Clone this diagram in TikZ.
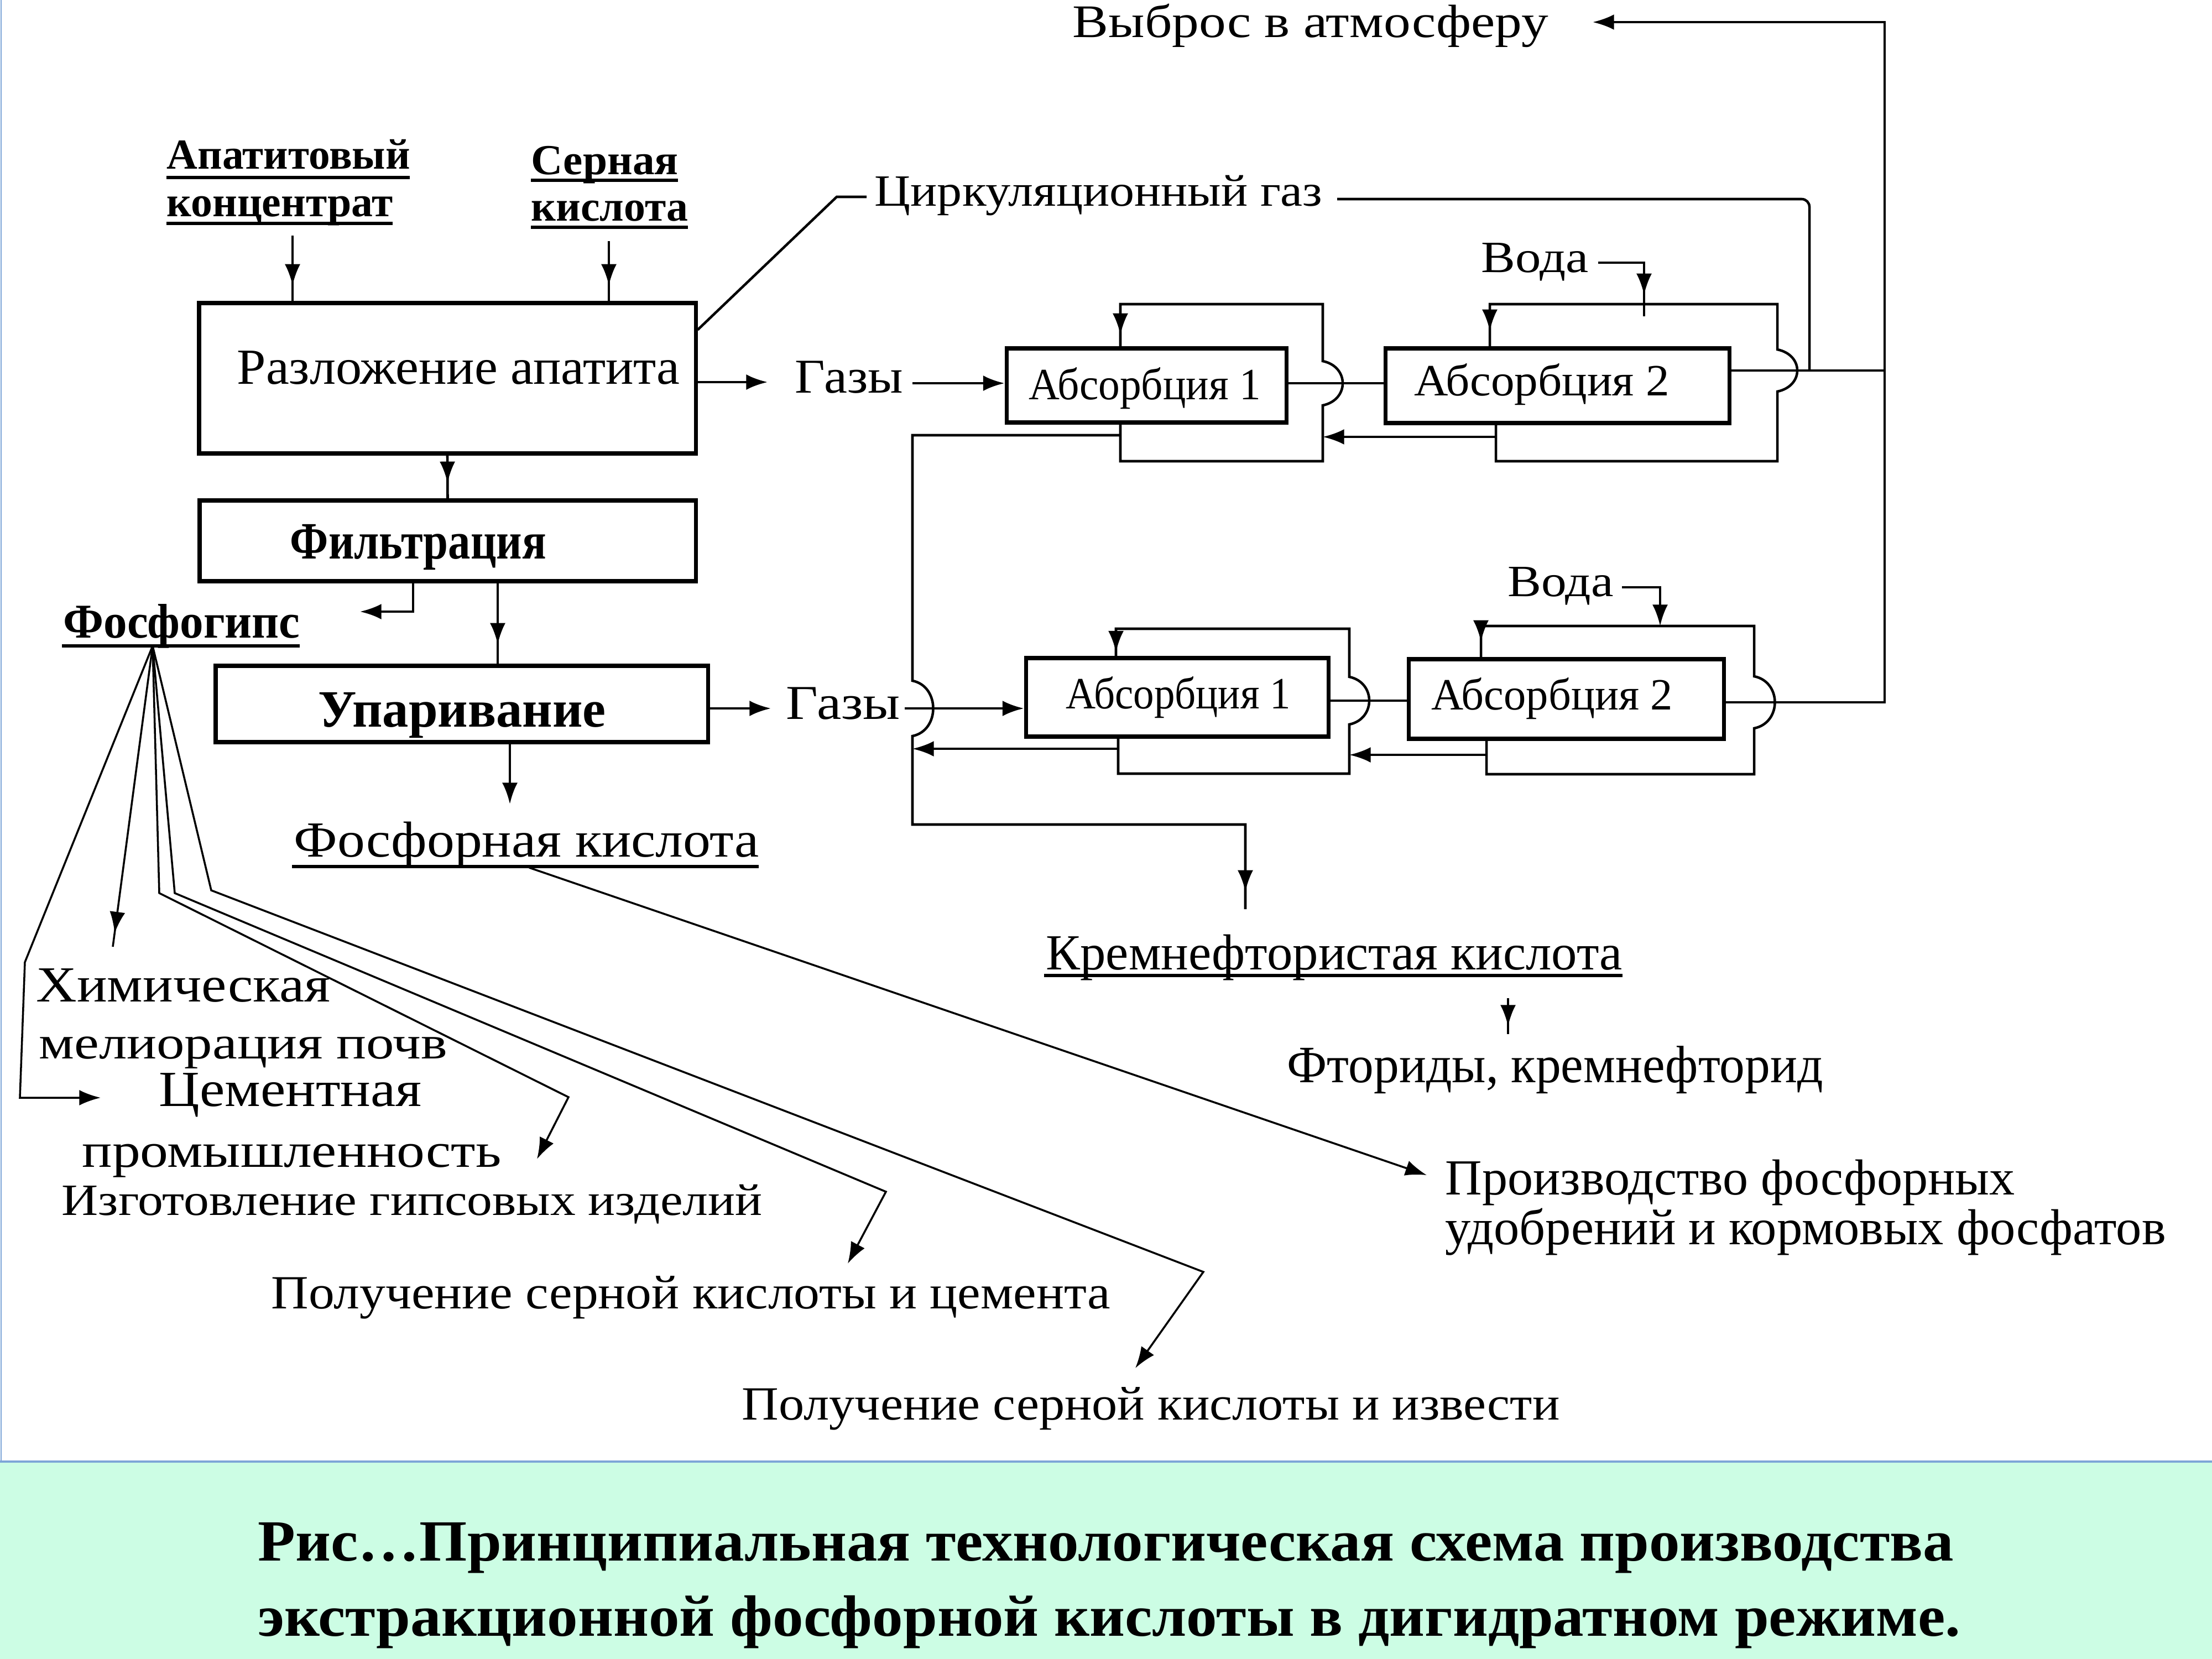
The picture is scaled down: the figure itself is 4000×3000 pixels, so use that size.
\documentclass[tikz,border=0pt]{standalone}
\usepackage{fontspec}
\setmainfont{Liberation Serif}
\usepackage{graphicx}
\usetikzlibrary{arrows.meta,decorations.markings,fit,calc}
\newdimen\mypx \mypx=0.01cm
\newcommand{\fitw}[2]{\resizebox{#1\mypx}{\height}{#2}}
\newcommand{\fsz}[1]{\fontsize{#1}{#1}\selectfont}
\definecolor{mint}{RGB}{204,253,228}
\definecolor{edgeblue}{RGB}{125,165,215}
\tikzset{
  box/.style={draw, line width=2pt, inner sep=0pt},
  lbl/.style={inner sep=0pt, anchor=base west, font=#1},
  capl/.style={inner sep=0pt, anchor=base, font=\bfseries\fsz{30}},
  ln/.style={line width=1.3pt},
  fan/.style={line width=1pt},
  uline/.style={line width=1.6pt},
  >={Latex[length=11pt,width=8pt]},
  arrat/.style={postaction={decorate}, decoration={markings, mark=at position #1 with {\arrow{>}}}},
}
\begin{document}
\begin{tikzpicture}[x=0.01cm,y=-0.01cm]
\useasboundingbox (0,0) rectangle (4000,3000);
\fill[white] (0,0) rectangle (4000,3000);
\fill[mint] (0,2643) rectangle (4000,3000);
\draw[edgeblue, line width=1.2pt] (0,2643) -- (4000,2643);
\draw[edgeblue, line width=0.6pt] (2,0) -- (2,2643);

% ---------- boxes
\node[box, fit={(360,548) (1258,820)}] (R) {};
\node[box, fit={(361,905) (1258,1051)}] (F) {};
\node[box, fit={(390,1204) (1280,1342)}] (U) {};
\node[box, fit={(1820,630) (2326,764)}] (A1) {};
\node[box, fit={(2505,630) (3127,765)}] (A2) {};
\node[box, fit={(1855,1190) (2402,1332)}] (B1) {};
\node[box, fit={(2547,1192) (3117,1336)}] (B2) {};

% ---------- texts
\node[lbl={\fsz{24}}] (tOut) at (1939,68) {\fitw{860}{Выброс в атмосферу}};
\node[lbl={\fsz{23}}] (tCirc) at (1581,372) {\fitw{810}{Циркуляционный газ}};
\node[lbl={\bfseries\fsz{22}}] (tAp1) at (301,305) {\fitw{440}{Апатитовый}};
\node[lbl={\bfseries\fsz{22}}] (tAp2) at (301,391) {\fitw{409}{концентрат}};
\node[lbl={\bfseries\fsz{22}}] (tS1) at (960,315) {\fitw{266}{Серная}};
\node[lbl={\bfseries\fsz{22}}] (tS2) at (960,399) {\fitw{284}{кислота}};
\node[lbl={\fsz{26}}] (tR) at (428,694) {\fitw{801}{Разложение апатита}};
\node[lbl={\bfseries\fsz{27}}] (tF) at (524,1010) {\fitw{463}{Фильтрация}};
\node[lbl={\bfseries\fsz{25}}] (tPh) at (114,1153) {\fitw{428}{Фосфогипс}};
\node[lbl={\bfseries\fsz{27}}] (tU) at (575,1314) {\fitw{520}{Упаривание}};
\node[lbl={\fsz{25}}] (tG1) at (1437,710) {\fitw{195}{Газы}};
\node[lbl={\fsz{25}}] (tG2) at (1421,1300) {\fitw{206}{Газы}};
\node[lbl={\fsz{26}}] (tPA) at (531,1549) {\fitw{841}{Фосфорная кислота}};
\node[lbl={\fsz{23}}] (tA1) at (1860,722) {\fitw{419}{Абсорбция 1}};
\node[lbl={\fsz{23}}] (tA2) at (2557,715) {\fitw{461}{Абсорбция 2}};
\node[lbl={\fsz{23}}] (tV1) at (2678,492) {\fitw{194}{Вода}};
\node[lbl={\fsz{23}}] (tB1) at (1927,1281) {\fitw{406}{Абсорбция 1}};
\node[lbl={\fsz{23}}] (tB2) at (2588,1283) {\fitw{436}{Абсорбция 2}};
\node[lbl={\fsz{23}}] (tV2) at (2726,1078) {\fitw{191}{Вода}};
\node[lbl={\fsz{26}}] (tKr) at (1891,1753) {\fitw{1042}{Кремнефтористая кислота}};
\node[lbl={\fsz{27}}] (tFt) at (2327,1957) {\fitw{969}{Фториды, кремнефторид}};
\node[lbl={\fsz{26}}] (tPr1) at (2613,2160) {\fitw{1030}{Производство фосфорных}};
\node[lbl={\fsz{26}}] (tPr2) at (2613,2250) {\fitw{1303}{удобрений и кормовых фосфатов}};
\node[lbl={\fsz{26}}] (tH1) at (65,1811) {\fitw{532}{Химическая}};
\node[lbl={\fsz{24}}] (tH2) at (70,1914) {\fitw{738}{мелиорация почв}};
\node[lbl={\fsz{26}}] (tC1) at (287,2000) {\fitw{475}{Цементная}};
\node[lbl={\fsz{25}}] (tC2) at (148,2110) {\fitw{758}{промышленность}};
\node[lbl={\fsz{23}}] (tI) at (111,2197) {\fitw{1267}{Изготовление гипсовых изделий}};
\node[lbl={\fsz{24.5}}] (tP1) at (490,2366) {\fitw{1517}{Получение серной кислоты и цемента}};
\node[lbl={\fsz{24.5}}] (tP2) at (1341,2567) {\fitw{1479}{Получение серной кислоты и извести}};
\node[capl] (cap1) at (2000,2822) {\fitw{3066}{Рис…Принципиальная технологическая схема производства}};
\node[capl] (cap2) at (2006,2958) {\fitw{3079}{экстракционной фосфорной кислоты в дигидратном режиме.}};

% ---------- underlines
\draw[uline] ($(tAp1.base west)+(0,16)$) -- ++(440,0);
\draw[uline] ($(tAp2.base west)+(0,13)$) -- ++(409,0);
\draw[uline] ($(tS1.base west)+(0,11)$) -- ++(266,0);
\draw[uline] ($(tS2.base west)+(0,12)$) -- ++(284,0);
\draw[uline] ($(tPh.base west)+(-2,15)$) -- ++(430,0);
\draw[uline] ($(tPA.base west)+(-3,18)$) -- ++(844,0);
\draw[uline] ($(tKr.base west)+(-3,11)$) -- ++(1046,0);

% ---------- left column
\coordinate (apS) at (529,426);
\draw[ln,arrat=-8pt] (apS) -- (apS |- R.north);
\coordinate (snS) at (1101,436);
\draw[ln,arrat=-8pt] (snS) -- (snS |- R.north);
\draw[ln,arrat=-8pt] (R.south) -- (F.north);
\coordinate (fgx) at (747,1106);
\coordinate (fgEnd) at (651,1106);
\draw[ln,->] (fgx |- F.south) -- (fgx) -- (fgEnd);
\coordinate (fux) at (900,1204);
\draw[ln,arrat=-10pt] (fux |- F.south) -- (fux |- U.north);
\coordinate (uax) at (922,1454);
\draw[ln,->] (uax |- U.south) -- (uax);

% ---------- gases
\coordinate (g1a) at (1388,691);
\draw[ln,->] (g1a -| R.east) -- (g1a);
\coordinate (g1b) at (1650,693);
\draw[ln,->] (g1b) -- (g1b -| A1.west);
\coordinate (g2a) at (1394,1281);
\draw[ln,->] (g2a -| U.east) -- (g2a);
\coordinate (g2b) at (1636,1281);
\draw[ln,->] (g2b) -- (g2b -| B1.west);

% ---------- upper absorption
\coordinate (ay) at (0,693);
\draw[ln] (ay -| A1.east) -- (ay -| A2.west);
\coordinate (l1x) at (2026,550);
\coordinate (l1r) at (2392,834);
\draw[ln,arrat=-6pt] (l1x |- A1.south) -- (l1x |- l1r) -- (l1r) -- (2392,733)
  .. controls (2440,723) and (2440,663) .. (2392,653) -- (l1r |- l1x) -- (l1x) -- (l1x |- A1.north);
\coordinate (r21) at (2705,790);
\draw[ln,->] (r21) -- (l1r |- r21);
\coordinate (l2x) at (2694,550);
\coordinate (l2r) at (3214,834);
\coordinate (l2bx) at (2705,834);
\draw[ln,arrat=-8pt] (l2bx |- A2.south) -- (l2bx) -- (l2r) -- (3214,708)
  .. controls (3262,698) and (3262,642) .. (3214,632) -- (l2r |- l2x) -- (l2x) -- (l2x |- A2.north);
\coordinate (v1s) at (2890,475);
\coordinate (v1) at (2973,572);
\draw[ln,arrat=-11pt] (v1s) -- (v1s -| v1) -- (v1);

% ---------- outputs
\coordinate (outx) at (3408,670);
\coordinate (cj) at (3272,670);
\draw[ln] (A2.east |- outx) -- (outx);
\coordinate (cg) at (2418,360);
\draw[ln, rounded corners=4pt] (cj) -- (cj |- cg) -- (cg);
\coordinate (rc) at ($(R.north east)+(0,52)$);
\draw[ln] ($(tCirc.base west)+(-14,-16)$) -- ++(-54,0) -- (rc);
\coordinate (b2o) at (3408,1270);
\coordinate (atm) at (2880,40);
\draw[ln,->] (B2.east |- b2o) -- (b2o) -- (b2o |- atm) -- (atm);

% ---------- lower absorption
\coordinate (by) at (0,1267);
\draw[ln] (by -| B1.east) -- (by -| B2.west);
\coordinate (m1x) at (2018,1137);
\coordinate (m1r) at (2440,1399);
\coordinate (m1bx) at (2022,1399);
\draw[ln,arrat=-2pt] (m1bx |- B1.south) -- (m1bx) -- (m1r) -- (2440,1310)
  .. controls (2488,1300) and (2488,1234) .. (2440,1224) -- (m1r |- m1x) -- (m1x) -- (m1x |- B1.north);
\coordinate (r2b) at (2688,1365);
\draw[ln,->] (r2b) -- (r2b -| m1r);
\coordinate (m2x) at (2678,1132);
\coordinate (m2r) at (3172,1400);
\coordinate (m2bx) at (2688,1400);
\draw[ln,arrat=-8pt] (m2bx |- B2.south) -- (m2bx) -- (m2r) -- (3172,1317)
  .. controls (3222,1307) and (3222,1233) .. (3172,1223) -- (m2r |- m2x) -- (m2x) -- (m2x |- B2.north);
\coordinate (v2s) at (2933,1062);
\coordinate (v2) at (3002,1132);
\draw[ln,->] (v2s) -- (v2s -| v2) -- (v2);

% ---------- left collector
\coordinate (lv) at (1650,787);
\coordinate (kr) at (2252,1491);
\coordinate (krE) at (2252,1644);
\draw[ln,arrat=-9pt] (l1x |- lv) -- (lv) -- (1650,1231)
  .. controls (1700,1241) and (1700,1321) .. (1650,1331) -- (lv |- kr) -- (kr) -- (krE);
\coordinate (b1l) at (2022,1354);
\draw[ln,->] (b1l) -- (lv |- b1l);
\coordinate (kfS) at (2727,1805);
\coordinate (kfE) at (2727,1870);
\draw[ln,arrat=-4pt] (kfS) -- (kfE);

% ---------- products
\coordinate (fk) at (957,1569);
\coordinate (pr) at (2580,2125);
\draw[fan,->] (fk) -- (pr);
\coordinate (F0) at (276,1168);
\coordinate (e0) at (182,1985);
\coordinate (e1) at (204,1712);
\coordinate (e2) at (971,2096);
\coordinate (e3) at (1533,2285);
\coordinate (e4) at (2053,2474);
\draw[fan,->] (F0) -- (45,1740) -- (36,1985) -- (e0);
\draw[fan,arrat=-7pt] (F0) -- (e1);
\draw[fan,->] (F0) -- (288,1615) -- (1028,1984) -- (e2);
\draw[fan,->] (F0) -- (316,1615) -- (1602,2155) -- (e3);
\draw[fan,->] (F0) -- (382,1610) -- (2176,2300) -- (e4);
\end{tikzpicture}
\end{document}
